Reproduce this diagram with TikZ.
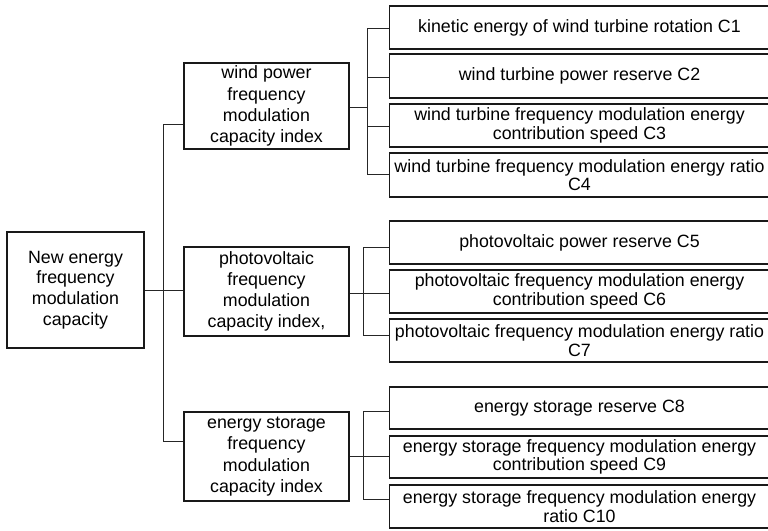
\documentclass[tikz,border=0pt]{standalone}
\usepackage{fontspec}
\setmainfont{Liberation Sans}
\begin{document}
\begin{tikzpicture}[x=1pt,y=-1pt,
  box/.style={draw=black!90, line width=1.3pt, inner sep=0pt, align=flush center, anchor=center},
  rootbox/.style={box, minimum width=137pt, minimum height=116pt, text width=130pt,
    font=\fontsize{17.8}{20.8}\selectfont},
  midbox/.style={box, minimum width=165pt, minimum height=88pt, text width=160pt,
    font=\fontsize{17.8}{21.2}\selectfont},
  cbox/.style={box, minimum width=375pt, minimum height=43pt, text width=380pt,
    font=\fontsize{17.8}{18.7}\selectfont},
  link/.style={draw=black!85, line width=0.8pt}]
\useasboundingbox (0,0) rectangle (768,530);

\node[rootbox] (root) at (75.5,290) {New energy\\frequency\\modulation\\capacity};

\node[midbox, minimum height=86pt] (wind) at (266.5,106) {wind power\\frequency\\modulation\\capacity index};
\node[midbox, minimum height=89pt] (pv) at (266.5,291.5) {photovoltaic\\frequency\\modulation\\capacity index,};
\node[midbox, minimum height=89pt] (es) at (266.5,456.5) {energy storage\\frequency\\modulation\\capacity index};

\node[cbox] (c1) at (579.5,27.5) {kinetic energy of wind turbine rotation C1};
\node[cbox, minimum height=44pt] (c2) at (579.5,76) {wind turbine power reserve C2};
\node[cbox] (c3) at (579.5,125.5) {wind turbine frequency modulation energy contribution speed C3};
\node[cbox, minimum height=44pt] (c4) at (579.5,175) {wind turbine frequency modulation energy ratio C4};
\node[cbox] (c5) at (579.5,242.5) {photovoltaic power reserve C5};
\node[cbox] (c6) at (579.5,291.5) {photovoltaic frequency modulation energy contribution speed C6};
\node[cbox] (c7) at (579.5,340.5) {photovoltaic frequency modulation energy ratio C7};
\node[cbox, minimum height=42pt] (c8) at (579.5,408) {energy storage reserve C8};
\node[cbox, minimum height=42pt] (c9) at (579.5,457) {energy storage frequency modulation energy contribution speed C9};
\node[cbox] (c10) at (579.5,506.5) {energy storage frequency modulation energy ratio C10};

% trunk
\coordinate (tw) at (163,124);
\coordinate (te) at (163,441);
\draw[link] (tw) -- (te);
\draw[link] (tw) -- (wind.west |- tw);
\draw[link] (te) -- (es.west |- te);
\draw[link] (root.east) -- (root.east -| pv.west);

% wind branch
\coordinate (b1) at (367,28);
\coordinate (b2) at (367,77);
\coordinate (b3) at (367,126);
\coordinate (b4) at (367,174);
\coordinate (bw) at (367,107);
\draw[link] (b1) -- (b4);
\draw[link] (wind.east |- bw) -- (bw);
\draw[link] (b1) -- (c1.west |- b1);
\draw[link] (b2) -- (c2.west |- b2);
\draw[link] (b3) -- (c3.west |- b3);
\draw[link] (b4) -- (c4.west |- b4);

% pv branch
\coordinate (b5) at (363,247);
\coordinate (b6) at (363,293);
\coordinate (b7) at (363,335);
\draw[link] (b5) -- (b7);
\draw[link] (pv.east |- b6) -- (b6);
\draw[link] (b5) -- (c5.west |- b5);
\draw[link] (b6) -- (c6.west |- b6);
\draw[link] (b7) -- (c7.west |- b7);

% es branch
\coordinate (b8) at (363,411);
\coordinate (b9) at (363,456);
\coordinate (b10) at (363,499);
\draw[link] (b8) -- (b10);
\draw[link] (es.east |- b9) -- (b9);
\draw[link] (b8) -- (c8.west |- b8);
\draw[link] (b9) -- (c9.west |- b9);
\draw[link] (b10) -- (c10.west |- b10);
\end{tikzpicture}
\end{document}
